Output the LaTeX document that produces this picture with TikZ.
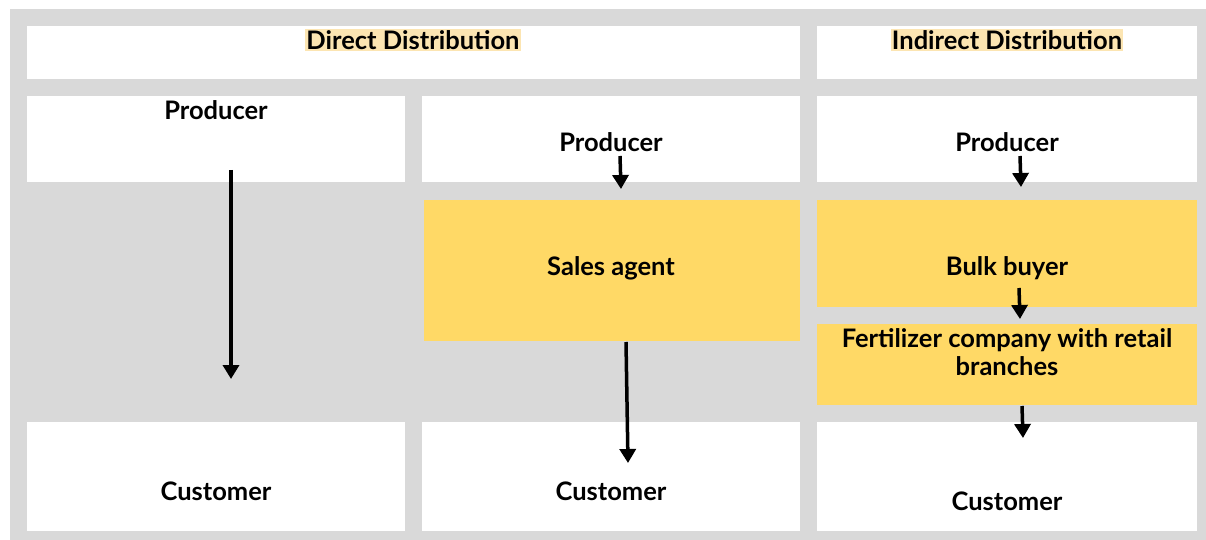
\documentclass[tikz,border=0pt]{standalone}
\usepackage{fontspec}
\setmainfont{Lato}
\usetikzlibrary{arrows.meta}

\definecolor{panelgray}{HTML}{D9D9D9}
\definecolor{boxyellow}{HTML}{FFD966}
\definecolor{titleyellow}{HTML}{FCE5B2}

\tikzset{
    cell/.style={fill=white, anchor=north west, inner sep=0pt},
    hicell/.style={fill=boxyellow, anchor=north west, inner sep=0pt},
    label/.style={font=\fontsize{25.5}{28}\selectfont\bfseries, align=center},
    title/.style={label, fill=titleyellow, inner xsep=1pt, inner ysep=1pt},
    flow/.style={line width=3.5pt, -{Triangle[width=16pt,length=14pt]}}
}

\begin{document}
\begin{tikzpicture}[x=1pt, y=-1pt]
    % Background panel
    \useasboundingbox (0,0) rectangle (1206,540);
    \fill[panelgray] (10,9) rectangle (1206,540);

    % Header boxes
    \node[cell, minimum width=773pt, minimum height=53pt] (headA) at (27,26) {};
    \node[cell, minimum width=380pt, minimum height=53pt] (headB) at (817,26) {};
    \node[title] (direct) at (413,40) {Direct Distribution};
    \node[title] (indirect) at (1007,40) {Indirect Distribution};

    % Producer row
    \node[cell, minimum width=378pt, minimum height=86pt] (topA) at (27,96) {};
    \node[cell, minimum width=378pt, minimum height=86pt] (topB) at (422,96) {};
    \node[cell, minimum width=380pt, minimum height=86pt] (topC) at (817,96) {};

    % Middlemen
    \node[hicell, minimum width=376pt, minimum height=141pt] (agentbox) at (424,200) {};
    \node[hicell, minimum width=380pt, minimum height=107pt] (bulkbox) at (817,200) {};
    \node[hicell, minimum width=380pt, minimum height=81pt] (retailbox) at (817,324) {};

    % Customer row
    \node[cell, minimum width=378pt, minimum height=109pt] (botA) at (27,422) {};
    \node[cell, minimum width=378pt, minimum height=109pt] (botB) at (422,422) {};
    \node[cell, minimum width=380pt, minimum height=109pt] (botC) at (817,422) {};

    % Labels
    \node[label] (prodA) at (216,110) {Producer};
    \node[label] (prodB) at (611,142) {Producer};
    \node[label] (prodC) at (1007,142) {Producer};
    \node[label] (agent) at (611,268) {Sales agent};
    \node[label] (bulk) at (1007,268) {Bulk buyer};
    \node[label] (retail) at (1007,352) {Fertilizer company with retail\\branches};
    \node[label] (custA) at (216,491) {Customer};
    \node[label] (custB) at (611,491) {Customer};
    \node[label] (custC) at (1007,501) {Customer};

    % Arrows
    \foreach \n/\xa/\ya/\xb/\yb in {a/231/170/231/379, b/620/156/621/189, c/626/342/628/463,
                                    d/1020/156/1021/187, e/1019/288/1020/319, f/1022/406/1023/438} {
        \coordinate (\n s) at (\xa,\ya);
        \coordinate (\n e) at (\xb,\yb);
        \draw[flow] (\n s) -- (\n e);
    }
\end{tikzpicture}
\end{document}
